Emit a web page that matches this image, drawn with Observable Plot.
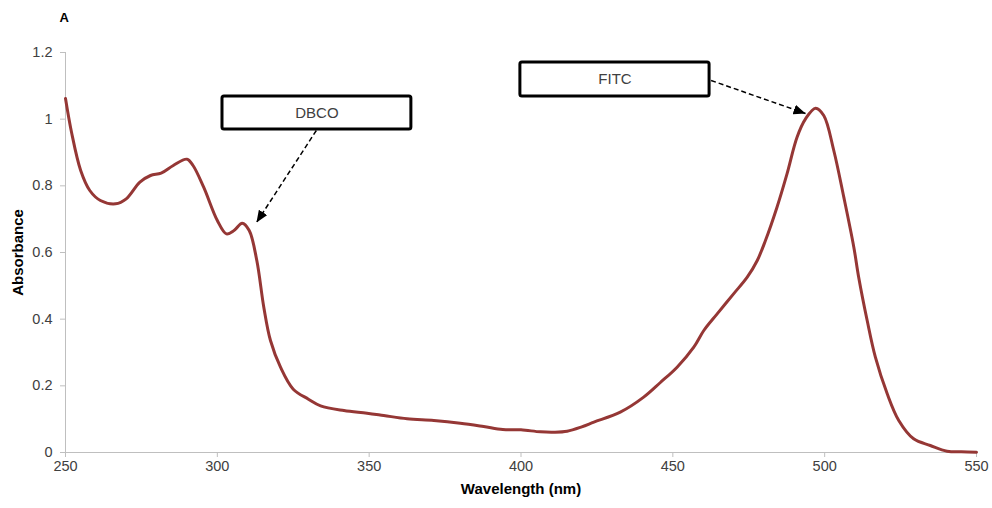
<!DOCTYPE html>
<html>
<head>
<meta charset="utf-8">
<script src="https://cdn.jsdelivr.net/npm/d3@7"></script>
<script src="https://cdn.jsdelivr.net/npm/@observablehq/plot@0.6"></script>
<style>
  html, body { margin: 0; padding: 0; background: #fff; }
  #chart { width: 992px; height: 508px; }
  svg { font-family: "Liberation Sans", Arial, sans-serif; }
</style>
</head>
<body>
<div id="chart"></div>
<script>
const wavelength = [250, 252, 255, 258, 261.5, 266.5, 270, 274.5, 278, 281.5, 285.5, 290, 292, 295.5, 300, 303, 305.5, 308.2, 310.5, 313, 315.3, 317.5, 320.8, 325, 330, 334, 341.7, 349.3, 354.8, 362.5, 371.3, 380, 387.7, 394, 400, 406.4, 411, 415.2, 420, 424, 432.7, 440.4, 445.9, 451.4, 456.9, 460.2, 464.6, 470, 474.5, 477.8, 480.5, 484.3, 487.6, 490.9, 493.7, 497, 499.7, 503, 506.3, 509.6, 511.2, 514, 516.7, 520.6, 524.4, 529.3, 534.8, 540.3, 545, 550];
const absorbance = [1.062, 0.96, 0.846, 0.786, 0.756, 0.746, 0.761, 0.811, 0.831, 0.838, 0.861, 0.880, 0.861, 0.796, 0.696, 0.656, 0.666, 0.688, 0.666, 0.576, 0.436, 0.336, 0.256, 0.19, 0.16, 0.14, 0.126, 0.118, 0.111, 0.101, 0.096, 0.088, 0.078, 0.069, 0.068, 0.062, 0.061, 0.064, 0.077, 0.091, 0.121, 0.166, 0.21, 0.256, 0.316, 0.366, 0.416, 0.476, 0.526, 0.576, 0.636, 0.736, 0.836, 0.946, 1.001, 1.033, 1.011, 0.906, 0.766, 0.616, 0.526, 0.396, 0.286, 0.176, 0.096, 0.041, 0.021, 0.004, 0.002, 0.001];

const xTicks = [250, 300, 350, 400, 450, 500, 550];
const yTicks = [0, 0.2, 0.4, 0.6, 0.8, 1, 1.2];

// annotation labels with their box extents and arrow (start -> tip) in data units
const annLabels = ["DBCO", "FITC"];
const annBoxX1 = [301.7, 399.8];
const annBoxX2 = [363.9, 462.1];
const annBoxY1 = [0.969, 1.068];
const annBoxY2 = [1.068, 1.170];
const annArrowX1 = [332.6, 462.6];
const annArrowY1 = [0.966, 1.116];
const annArrowX2 = [312.9, 493.7];
const annArrowY2 = [0.690, 1.017];

const spectrum = wavelength.map((w, i) => ({w, a: absorbance[i]}));
const ann = annLabels.map((label, i) => ({
  label, x1: annBoxX1[i], x2: annBoxX2[i], y1: annBoxY1[i], y2: annBoxY2[i],
  ax1: annArrowX1[i], ay1: annArrowY1[i], ax2: annArrowX2[i], ay2: annArrowY2[i]
}));

const axisGray = "#bfbfbf";
const textGray = "#404040";

const chart = Plot.plot({
  width: 992,
  height: 508,
  marginLeft: 65,
  marginRight: 16,
  marginTop: 52,
  marginBottom: 56,
  style: {fontFamily: '"Liberation Sans", Arial, sans-serif', fontSize: "14.5px", background: "#fff"},
  x: {domain: [250, 550]},
  y: {domain: [0, 1.2]},
  marks: [
    Plot.ruleX([250], {stroke: axisGray, strokeWidth: 1}),
    Plot.ruleY([0], {stroke: axisGray, strokeWidth: 1}),
    Plot.axisX({ticks: xTicks, tickSize: 5, tickPadding: 3, stroke: axisGray, fill: textGray, fontSize: 14.5, label: null}),
    Plot.axisY({ticks: yTicks, tickSize: 5, tickPadding: 8, stroke: axisGray, fill: textGray, fontSize: 14.5, label: null,
      tickFormat: d => String(d)}),
    Plot.line(spectrum, {x: "w", y: "a", stroke: "#953735", strokeWidth: 3, curve: "catmull-rom"}),
    Plot.link(ann, {x1: "ax1", y1: "ay1", x2: "ax2", y2: "ay2", stroke: "#000", strokeWidth: 1.5, strokeDasharray: "5,3", className: "ann-arrow"}),
    Plot.rect(ann, {x1: "x1", x2: "x2", y1: "y1", y2: "y2", fill: "#fff", stroke: "#000", strokeWidth: 3, rx: 2}),
    Plot.text(ann, {x: d => (d.x1 + d.x2) / 2, y: d => (d.y1 + d.y2) / 2, text: "label", fill: textGray, fontSize: 15}),
    Plot.text(["Wavelength (nm)"], {frameAnchor: "bottom", dy: 41, fontWeight: "bold", fill: "#000", fontSize: 15}),
    Plot.text(["Absorbance"], {frameAnchor: "left", textAnchor: "middle", dx: -47, rotate: -90, fontWeight: "bold", fill: "#000", fontSize: 15}),
    Plot.text(["A"], {frameAnchor: "top-left", dx: -6, dy: -40, fontWeight: "bold", fill: "#000", fontSize: 13})
  ]
});

// filled triangular arrowheads on the dashed annotation arrows
const svg = d3.select(chart);
const defs = svg.insert("defs", ":first-child");
defs.append("marker")
  .attr("id", "ann-head")
  .attr("viewBox", "0 0 12 10")
  .attr("refX", 12).attr("refY", 5)
  .attr("markerWidth", 12).attr("markerHeight", 10)
  .attr("markerUnits", "userSpaceOnUse")
  .attr("orient", "auto")
  .append("path")
  .attr("d", "M0,0 L12,5 L0,10 Z")
  .attr("fill", "#000").attr("stroke", "none");
svg.selectAll(".ann-arrow path").attr("marker-end", "url(#ann-head)");

document.getElementById("chart").appendChild(chart);
</script>
</body>
</html>
